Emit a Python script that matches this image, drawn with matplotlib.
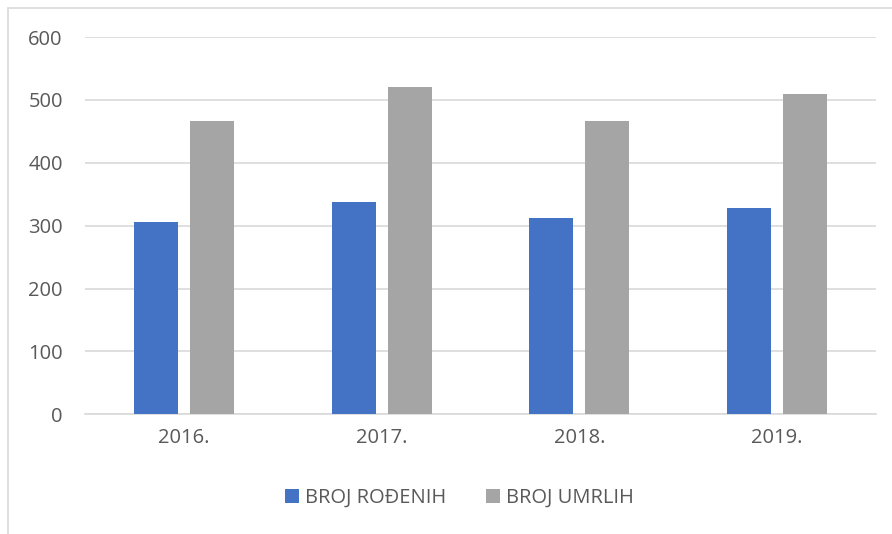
import numpy as np
import matplotlib.pyplot as plt
from matplotlib.patches import Rectangle

years = ['2016.', '2017.', '2018.', '2019.']
rodjeni = [306, 338, 312, 328]
umrli = [467, 520, 467, 510]

plt.rcParams['font.family'] = ['Open Sans', 'DejaVu Sans']
txt = '#595959'

fig = plt.figure(figsize=(8.92, 5.34), dpi=100)
ax = fig.add_axes([85/892, (534-414.3)/534, (876-85)/892, (414.3-37)/534])

x = np.arange(len(years))
w = 0.223
ax.bar(x - 0.1416, rodjeni, w, color='#4472c4', label='BROJ ROĐENIH', zorder=3)
ax.bar(x + 0.1416, umrli, w, color='#a5a5a5', label='BROJ UMRLIH', zorder=3)

ax.set_xlim(-0.5, len(years) - 0.5)
ax.set_ylim(0, 600)
ax.set_yticks(range(0, 601, 100))
ax.set_xticks(x)
ax.set_xticklabels(years)
ax.tick_params(axis='both', length=0, labelsize=14.5, colors=txt)
ax.tick_params(axis='y', pad=16)
ax.tick_params(axis='x', pad=10)
ax.grid(axis='y', color='#d9d9d9', lw=1.2, zorder=0)
for s in ['top', 'right', 'left']:
    ax.spines[s].set_visible(False)
ax.spines['bottom'].set_color('#d9d9d9')
ax.spines['bottom'].set_linewidth(1.2)

ax.legend(loc='center', bbox_to_anchor=(0.515, (534-498)/534), bbox_transform=fig.transFigure,
          ncol=2, frameon=False, fontsize=14.5, labelcolor=txt,
          handlelength=0.7, handleheight=0.7, handletextpad=0.3, columnspacing=2.0)

# outer chart border
fig.patches.append(Rectangle((8/892, -0.1), 1.0, (534-8)/534 + 0.1, transform=fig.transFigure,
                             fill=False, edgecolor='#d9d9d9', lw=1.2))

plt.savefig('out.png', dpi=100)
